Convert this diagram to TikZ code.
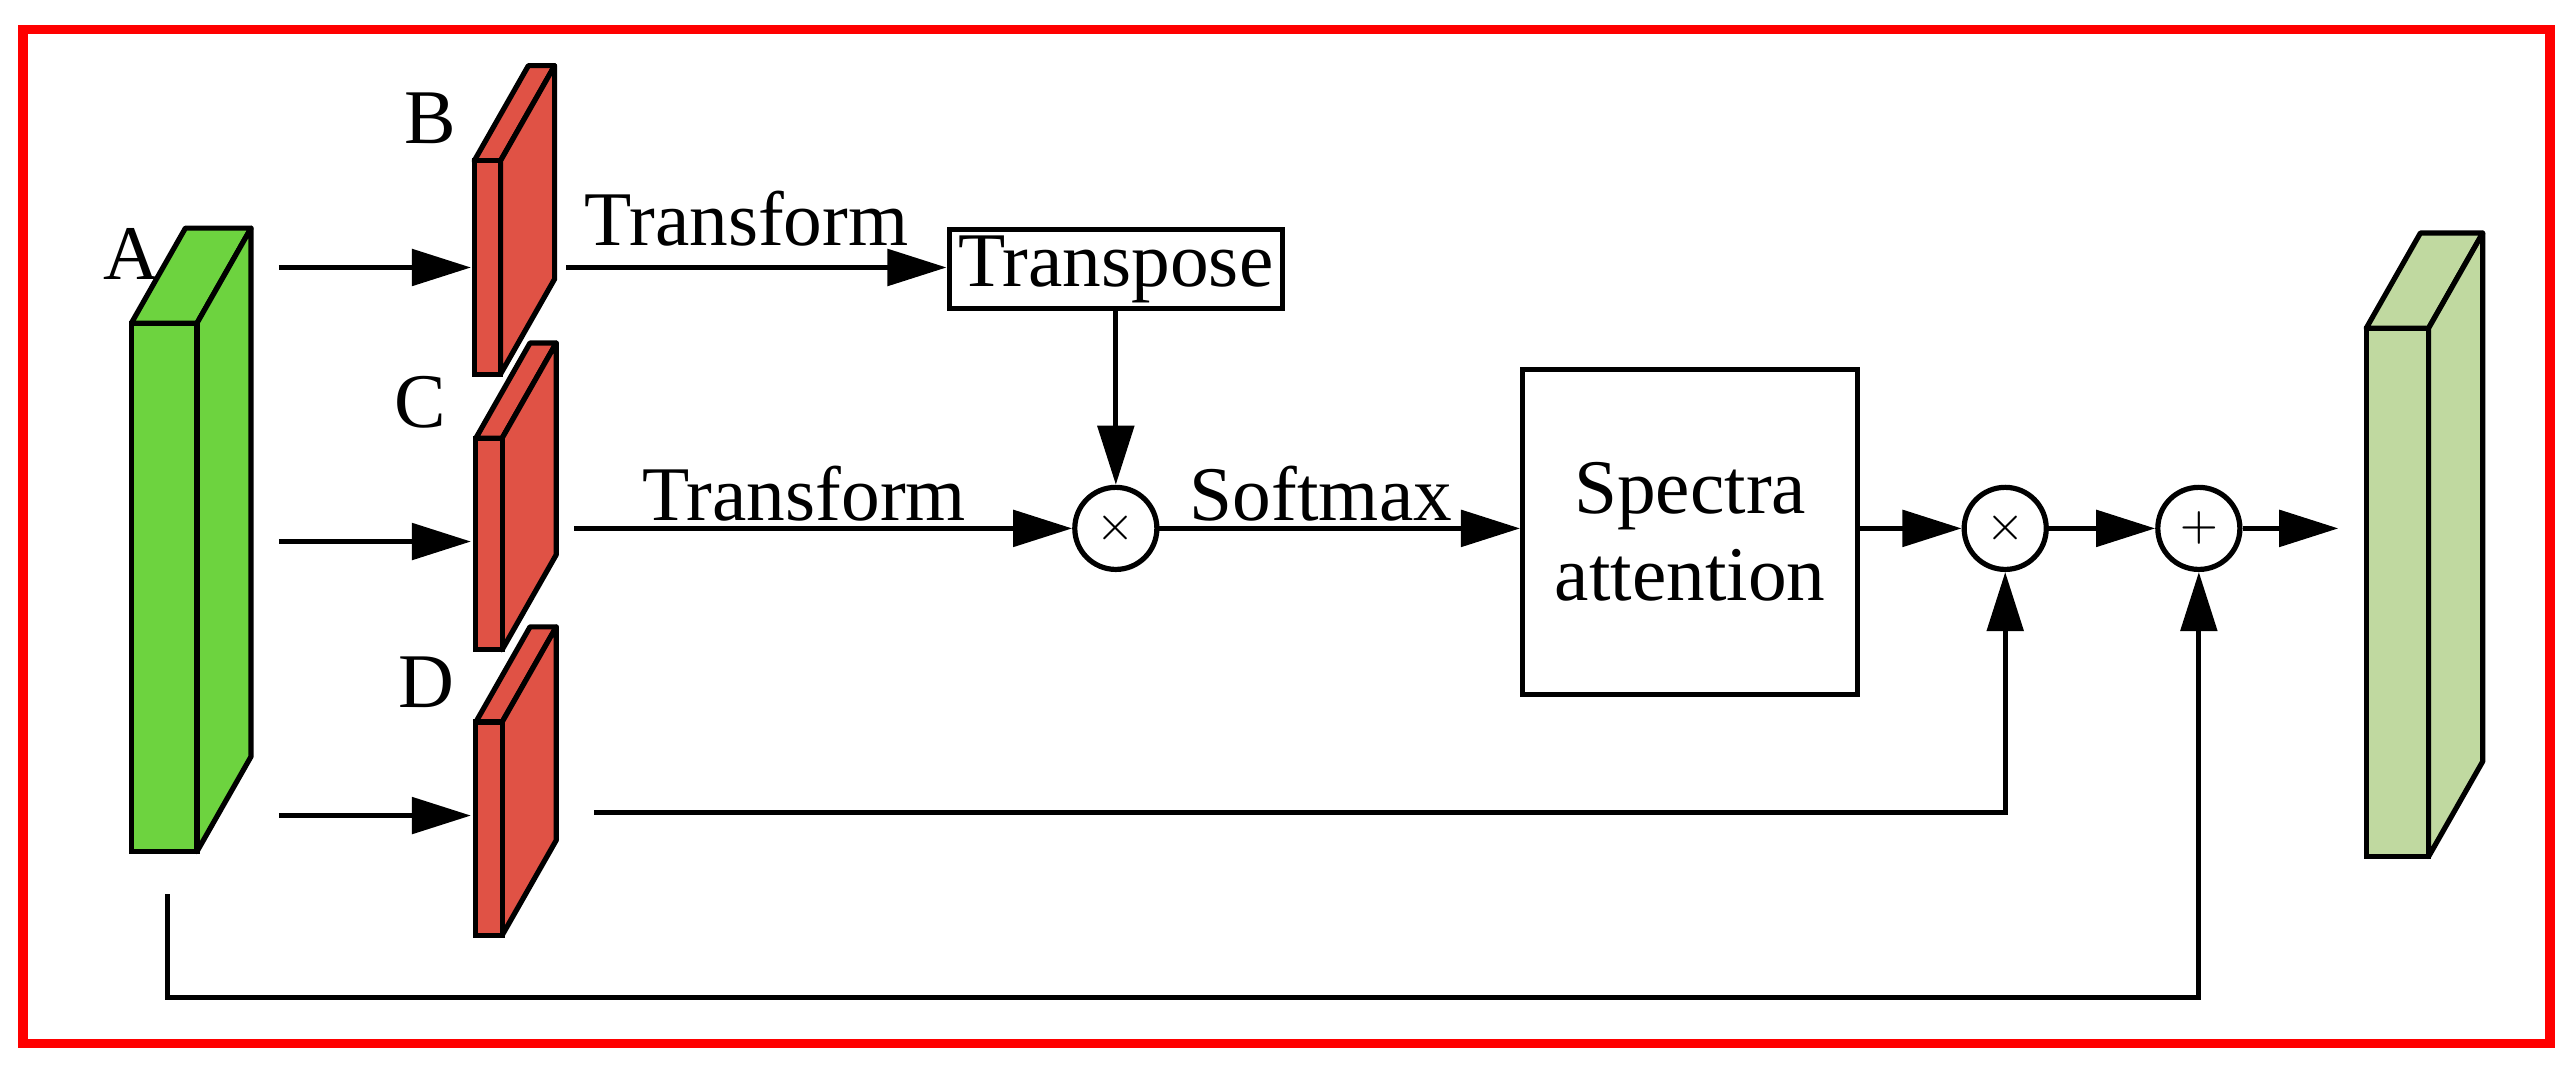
\documentclass[tikz,border=0pt]{standalone}
\usepackage{fontspec}
\setmainfont{Liberation Serif}
\usetikzlibrary{arrows.meta}
\begin{document}
\begin{tikzpicture}[x=0.01cm,y=-0.01cm,
  lw/.style={line width=0.9pt},
  arr/.style={lw,-{Triangle[length=0.36cm,width=0.22cm]}},
  lbl/.style={font=\fontsize{13.4}{15}\selectfont,inner sep=0pt},
  opc/.style={draw,lw,circle,minimum size=0.5cm,inner sep=0pt,fill=white,font=\fontsize{8}{9}\selectfont},
  boxn/.style={draw,lw,inner sep=0pt,font=\fontsize{13.4}{15}\selectfont,align=center}]
\useasboundingbox (0,0) rectangle (1568,657);
\draw[red,line width=1.6pt] (14,18) rectangle (1554,636);
\newcommand\blk[6]{%
  \fill[#6,draw=black,lw,line join=round] (#1,#3)--(#2,#3)--(#2+#5,#3-58)--(#1+#5,#3-58)--cycle;
  \fill[#6,draw=black,lw,line join=round] (#2,#3)--(#2+#5,#3-58)--(#2+#5,#4-58)--(#2,#4)--cycle;
  \fill[#6,draw=black,lw] (#1,#3) rectangle (#2,#4);}
\definecolor{gA}{HTML}{6DD33F}
\definecolor{rB}{HTML}{E05245}
\definecolor{gO}{HTML}{C0D9A0}
\blk{80}{120}{197}{519}{33}{gA}
\blk{289}{305}{98}{228}{33}{rB}
\blk{290}{306}{267}{396}{33}{rB}
\blk{290}{306}{440}{570}{33}{rB}
\blk{1442}{1480}{200}{522}{33}{gO}
\node[lbl] (la) at (80,155) {A};
\node[lbl] (lb) at (262,72) {B};
\node[lbl] (lc) at (256,245) {C};
\node[lbl] (ld) at (260,416) {D};
\coordinate (a1) at (170,163); \coordinate (b1) at (287,163);
\coordinate (a2) at (170,330); \coordinate (b2) at (287,330);
\coordinate (a3) at (170,497); \coordinate (b3) at (287,497);
\draw[arr] (a1)--(b1); \draw[arr] (a2)--(b2); \draw[arr] (a3)--(b3);
\node[boxn,minimum width=2.03cm,minimum height=0.48cm] (tp) at (680,164) {Transpose};
\node[opc] (m1) at (680,322) {$\times$};
\node[boxn,minimum width=2.04cm,minimum height=1.98cm] (sa) at (1030,324) {Spectra\\attention};
\node[opc] (m2) at (1222,322) {$\times$};
\node[opc] (p1) at (1340,322) {$+$};
\coordinate (bo) at (345,163);
\coordinate (co) at (350,322);
\coordinate (do) at (362,495);
\coordinate (ao) at (102,545);
\coordinate (out) at (1425,322);
\draw[arr] (bo)--(tp.west|-bo);
\draw[arr] (tp.south)--(m1.north);
\draw[arr] (co)--(m1.west);
\draw[arr] (m1.east)--(sa.west|-m1);
\draw[arr] (sa.east|-m2)--(m2.west);
\draw[arr] (m2.east)--(p1.west);
\draw[arr] (p1.east)--(out);
\draw[arr] (do)-|(m2.south);
\draw[arr] (ao)--(102,608)-|(p1.south);
\node[lbl] (t1) at (455,133) {Transform};
\node[lbl] (t2) at (490,301) {Transform};
\node[lbl] (t3) at (805,301) {Softmax};
\end{tikzpicture}
\end{document}
